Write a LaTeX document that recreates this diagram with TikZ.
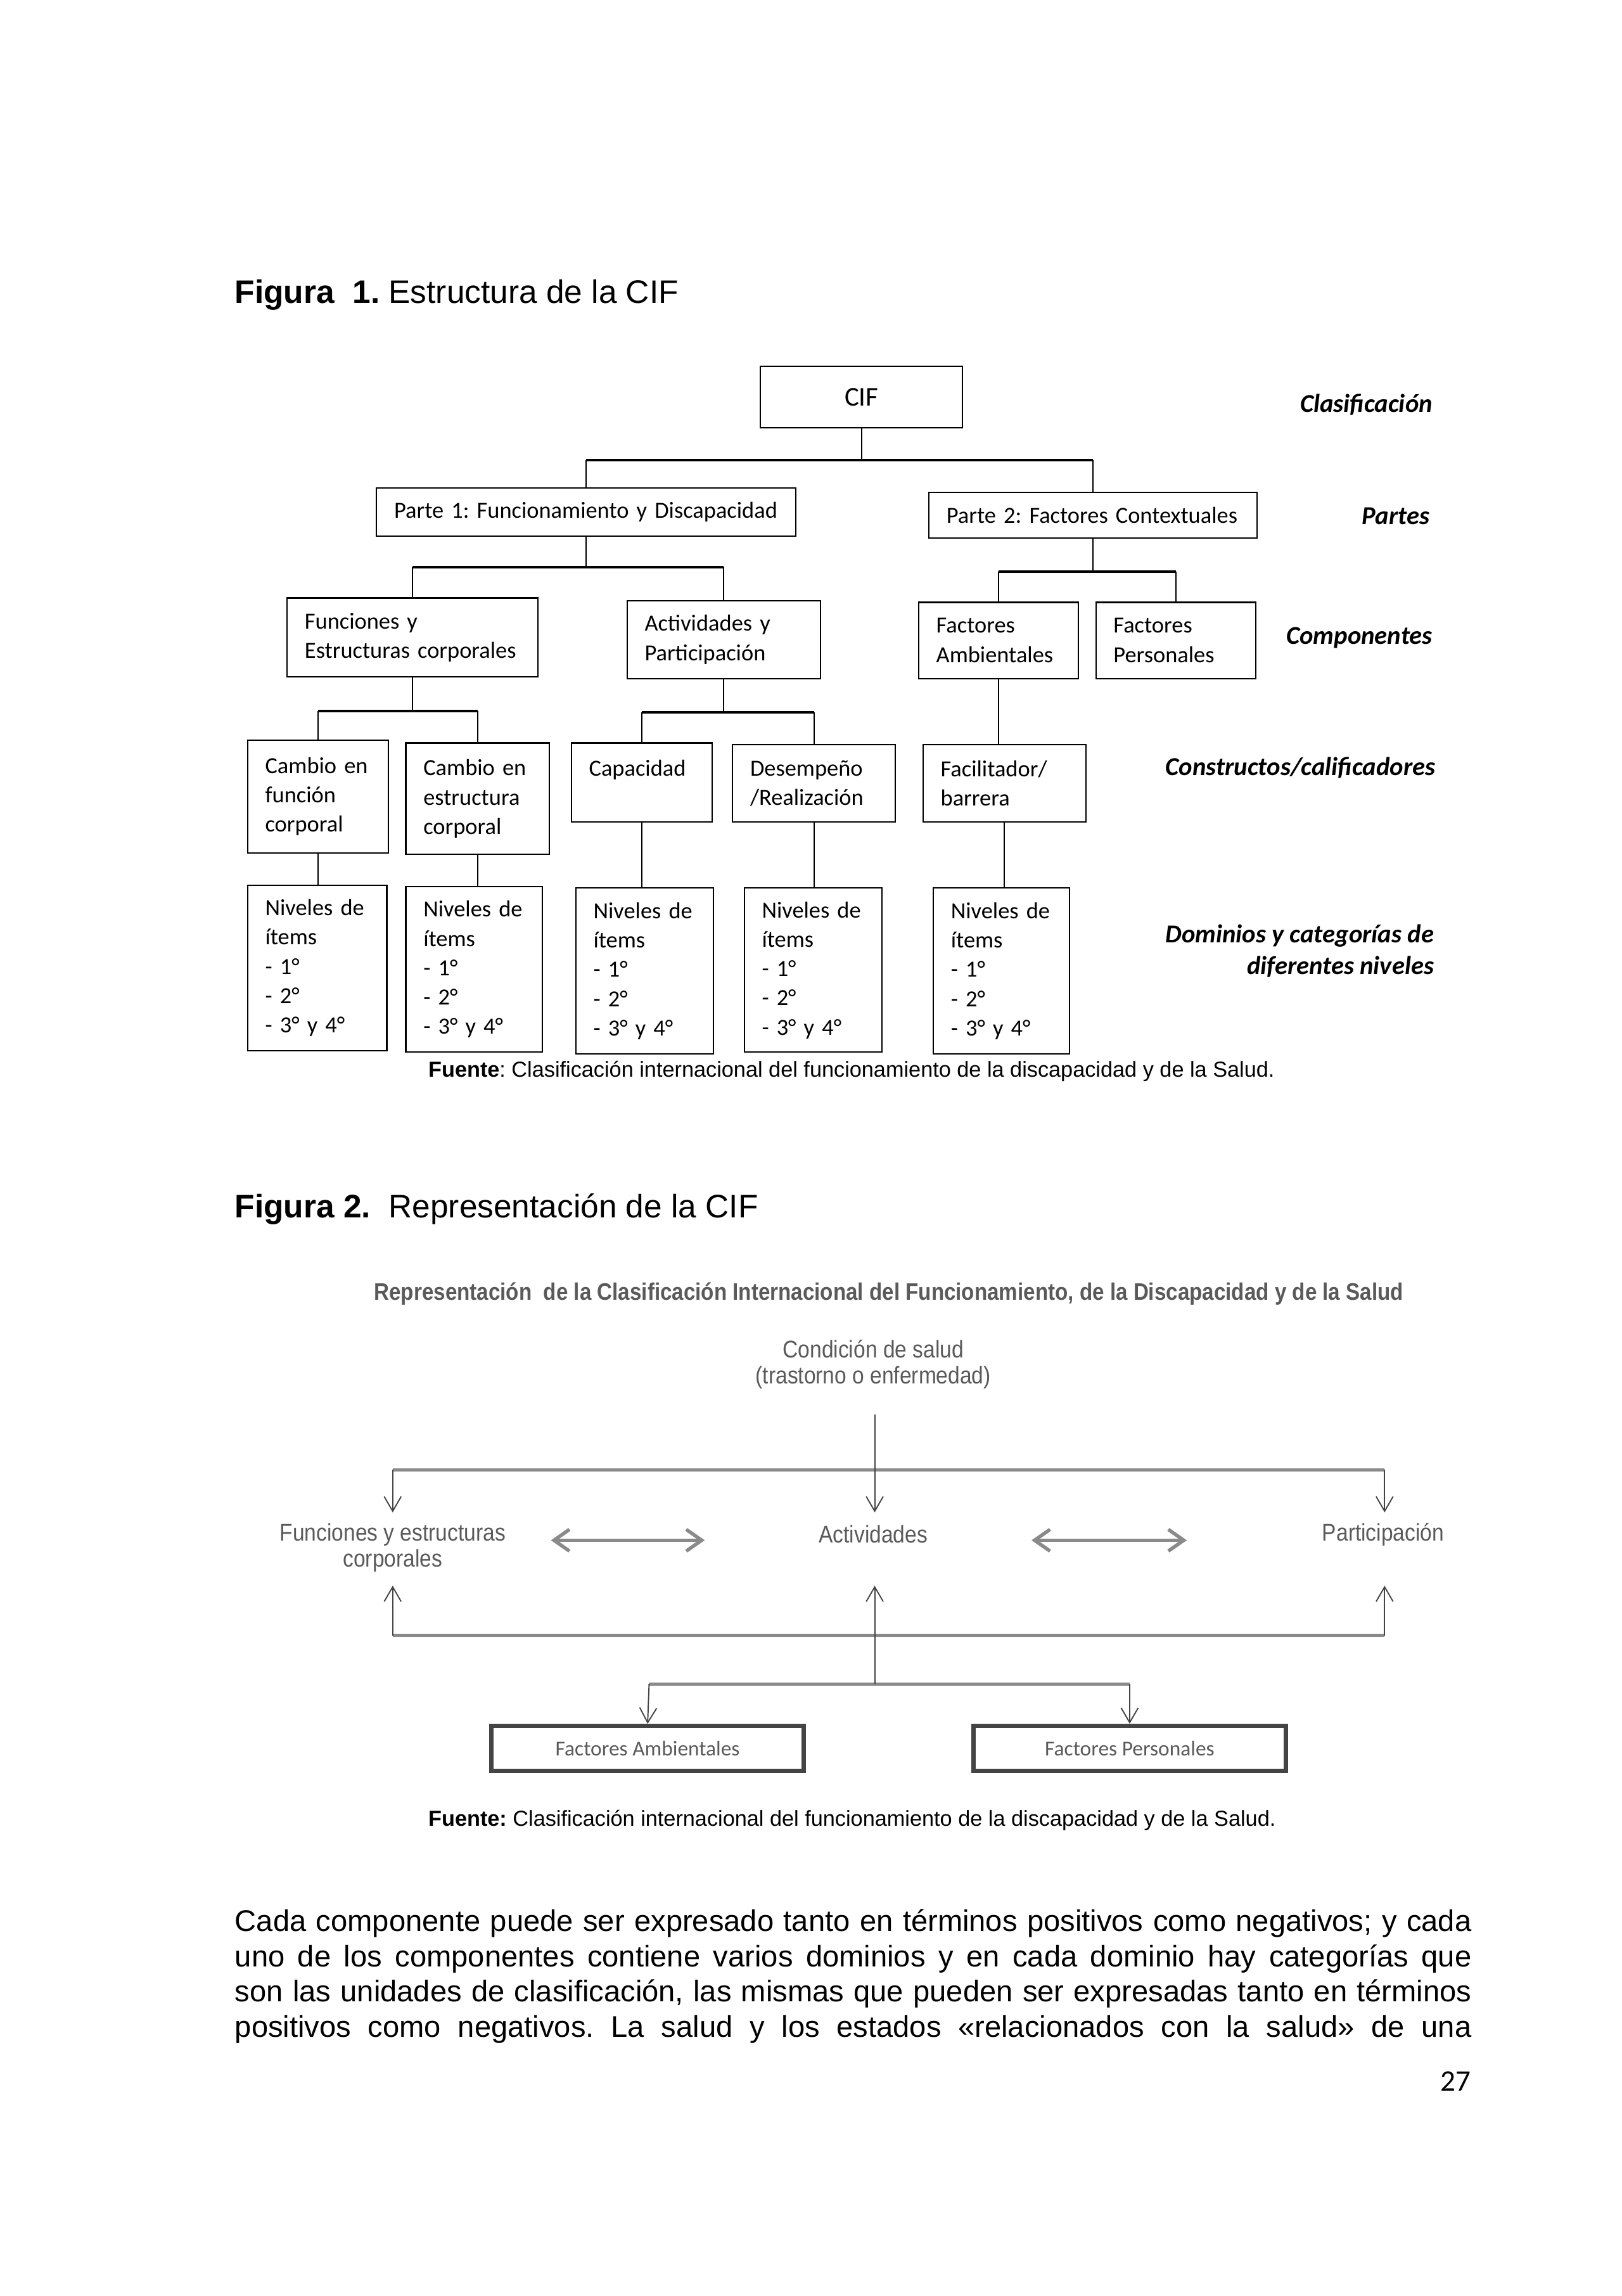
\documentclass[tikz,border=0pt]{standalone}
\usepackage{fontspec}
\setmainfont{Liberation Sans}
\newfontfamily\calibri{Carlito}
\newfontfamily\estrecha[FakeStretch=0.88]{Liberation Sans}
\usetikzlibrary{arrows.meta}
\definecolor{grisT}{HTML}{5A5A5A}
\definecolor{grisL}{HTML}{444444}
\definecolor{grisB}{HTML}{8A8A8A}
\frenchspacing
\hyphenpenalty=10000

\begin{document}
\begin{tikzpicture}[x=0.1897mm, y=-0.1897mm,
  caja/.style={draw, line width=0.5pt, align=left, inner xsep=2.28mm, inner ysep=0pt,
    font=\calibri\fontsize{8.5}{10.8}\selectfont},
  rotulo/.style={anchor=east, align=right, inner sep=0pt, font=\calibri\bfseries\itshape\fontsize{9.5}{11.6}\selectfont},
  rama/.style={line width=0.5pt},
  barra/.style={line width=0.9pt},
  gtexto/.style={align=center, text=grisT, font=\estrecha\fontsize{8.9}{9.7}\selectfont},
  gcaja/.style={draw=grisL, line width=1.6pt, minimum width=40.4mm, minimum height=5.8mm,
    text=grisT, font=\calibri\fontsize{7.8}{9}\selectfont},
  gbarra/.style={draw=grisB, line width=1.2pt},
  flecha/.style={draw=grisL, line width=0.45pt, -{Straight Barb[length=1.9mm,width=2.2mm]}},
  doble/.style={draw=grisB, line width=1.3pt, {Straight Barb[length=2mm,width=2.8mm]}-{Straight Barb[length=2mm,width=2.8mm]}},
  fuente/.style={anchor=base west, inner sep=0pt, font=\fontsize{8}{9}\selectfont}]
\useasboundingbox (0,0) rectangle (1107,1566.7);

% Figura 1
\node[anchor=base west, inner sep=0pt, font=\fontsize{12}{14}\selectfont] (tit1) at (160,207) {\textbf{Figura\ \ 1.} Estructura de la CIF};

\node[draw, line width=0.5pt, minimum width=26.18mm, minimum height=7.97mm, font=\calibri\fontsize{10}{12}\selectfont] (cif) at (588,271) {CIF};
\node[caja, text width=49.7mm, minimum height=6.26mm] (p1) at (400,349.5) {\mbox{Parte 1: Funcionamiento y Discapacidad}};
\node[caja, text width=37.94mm, minimum height=5.88mm] (p2) at (746,351.5) {\mbox{Parte 2: Factores Contextuales}};
\node[caja, text width=27.89mm, minimum height=10.24mm] (fun) at (281.5,435) {Funciones y\\Estructuras corporales};
\node[caja, text width=20.49mm, minimum height=10.05mm] (act) at (494,436.5) {Actividades y\\Participación};
\node[caja, text width=16.13mm, minimum height=9.86mm] (fam) at (681.5,437) {Factores\\Ambientales};
\node[caja, text width=16.13mm, minimum height=9.86mm] (fpe) at (802.5,437) {Factores\\Personales};
\node[caja, text width=13.66mm, minimum height=14.61mm] (cf) at (217,543.5) {Cambio en\\función\\corporal};
\node[caja, text width=14.04mm, minimum height=14.42mm] (ce) at (326,545) {Cambio en\\estructura\\corporal};
\node[caja, text width=13.66mm, minimum height=10.24mm] (cap) at (438,534) {Capacidad\\\mbox{}};
\node[caja, text width=16.50mm, minimum height=10.05mm] (des) at (555.5,534.5) {Desempeño\\/Realización};
\node[caja, text width=16.50mm, minimum height=10.05mm] (fac) at (685.5,534.5) {Facilitador/\\barrera};
\node[caja, text width=13.47mm, minimum height=21.44mm] (n1) at (216.5,660.5) {Niveles de\\ítems\\- 1°\\- 2°\\- 3° y 4°};
\node[caja, text width=13.09mm, minimum height=21.44mm] (n2) at (323.5,661.5) {Niveles de\\ítems\\- 1°\\- 2°\\- 3° y 4°};
\node[caja, text width=13.28mm, minimum height=21.44mm] (n3) at (440,662.5) {Niveles de\\ítems\\- 1°\\- 2°\\- 3° y 4°};
\node[caja, text width=13.28mm, minimum height=21.25mm] (n4) at (555,662) {Niveles de\\ítems\\- 1°\\- 2°\\- 3° y 4°};
\node[caja, text width=13.09mm, minimum height=21.44mm] (n5) at (683.5,662.5) {Niveles de\\ítems\\- 1°\\- 2°\\- 3° y 4°};

\foreach \p/\a/\b/\y in {cif/p1/p2/314, p1/fun/act/387, p2/fam/fpe/390, fun/cf/ce/485, act/cap/des/486} {
  \draw[rama] (\p.south) -- (\p.south |- 0,\y);
  \draw[rama] (\a.north) -- (\a.north |- 0,\y);
  \draw[rama] (\b.north) -- (\b.north |- 0,\y);
  \draw[barra] (\a.north |- 0,\y) -- (\b.north |- 0,\y);
}
\foreach \a/\b in {fam/fac, cf/n1, ce/n2, cap/n3, des/n4, fac/n5}
  \draw[rama] (\a.south) -- (\a.south |- \b.north);

\node[rotulo] (clas) at (978,276) {Clasificación};
\node[rotulo] (par) at (976,352) {Partes};
\node[rotulo] (com) at (978,435) {Componentes};
\node[rotulo] (cons) at (980,524) {Constructos/calificadores};
\node[rotulo] (dom) at (979,649) {Dominios y categorías de\\diferentes niveles};

\node[fuente] (fuente1) at (292,735) {\textbf{Fuente}: Clasificación internacional del funcionamiento de la discapacidad y de la Salud.};

% Figura 2
\node[anchor=base west, inner sep=0pt, font=\fontsize{12}{14}\selectfont] (tit2) at (160,831) {\textbf{Figura 2.}\ \ Representación de la CIF};
\node[anchor=base west, inner sep=0pt, text=grisT, font=\estrecha\bfseries\fontsize{8.8}{10}\selectfont] (cab) at (255,887)
  {Representación\ \ de la Clasificación Internacional del Funcionamiento, de la Discapacidad y de la Salud};

\node[gtexto] (cond) at (596,931) {Condición de salud\\(trastorno o enfermedad)};
\node[gtexto] (efun) at (268,1056) {Funciones y estructuras\\corporales};
\node[gtexto] (eact) at (596,1047) {Actividades};
\node[gtexto] (epar) at (944,1047) {Participación};
\node[gcaja] (fa) at (442,1193) {Factores Ambientales};
\node[gcaja] (fp) at (771,1193) {Factores Personales};

\coordinate (c0) at (597,965);
\coordinate (ti) at (268,1003); \coordinate (td) at (945,1003);
\coordinate (a1) at (268,1032); \coordinate (a2) at (597,1032); \coordinate (a3) at (945,1032);
\coordinate (u1) at (268,1082); \coordinate (u2) at (597,1082); \coordinate (u3) at (945,1082);
\coordinate (bi) at (268,1116); \coordinate (bd) at (945,1116);
\coordinate (ci) at (443,1149); \coordinate (cc) at (597,1149); \coordinate (cd) at (771,1149);
\coordinate (d1) at (376,1051); \coordinate (d2) at (481,1051);
\coordinate (d3) at (704,1051); \coordinate (d4) at (810,1051);

\draw[gbarra] (ti) -- (td);
\draw[gbarra] (bi) -- (bd);
\draw[gbarra] (ci) -- (cd);
\draw[flecha] (c0) -- (a2);
\draw[flecha] (ti) -- (a1);
\draw[flecha] (td) -- (a3);
\draw[flecha] (bi) -- (u1);
\draw[flecha] (cc) -- (u2);
\draw[flecha] (bd) -- (u3);
\draw[flecha] (ci) -- (fa.north);
\draw[flecha] (cd) -- (fp.north);
\draw[doble] (d1) -- (d2);
\draw[doble] (d3) -- (d4);

\node[fuente] (fuente2) at (292,1246) {\textbf{Fuente:} Clasificación internacional del funcionamiento de la discapacidad y de la Salud.};

% texto
\node[anchor=base west, inner sep=0pt, font=\fontsize{11}{13}\selectfont] (l1) at (160,1318)
  {\makebox[160.1mm][s]{Cada componente puede ser expresado tanto en términos positivos como negativos; y cada}};
\node[anchor=base west, inner sep=0pt, font=\fontsize{11}{13}\selectfont] (l2) at (160,1342)
  {\makebox[160.1mm][s]{uno de los componentes contiene varios dominios y en cada dominio hay categorías que}};
\node[anchor=base west, inner sep=0pt, font=\fontsize{11}{13}\selectfont] (l3) at (160,1366)
  {\makebox[160.1mm][s]{son las unidades de clasificación, las mismas que pueden ser expresadas tanto en términos}};
\node[anchor=base west, inner sep=0pt, font=\fontsize{11}{13}\selectfont] (l4) at (160,1390)
  {\makebox[160.1mm][s]{positivos como negativos. La salud y los estados «relacionados con la salud» de una}};
\node[anchor=base east, inner sep=0pt, font=\calibri\fontsize{11}{13}\selectfont] (pag) at (1004,1427) {27};
\end{tikzpicture}
\end{document}
